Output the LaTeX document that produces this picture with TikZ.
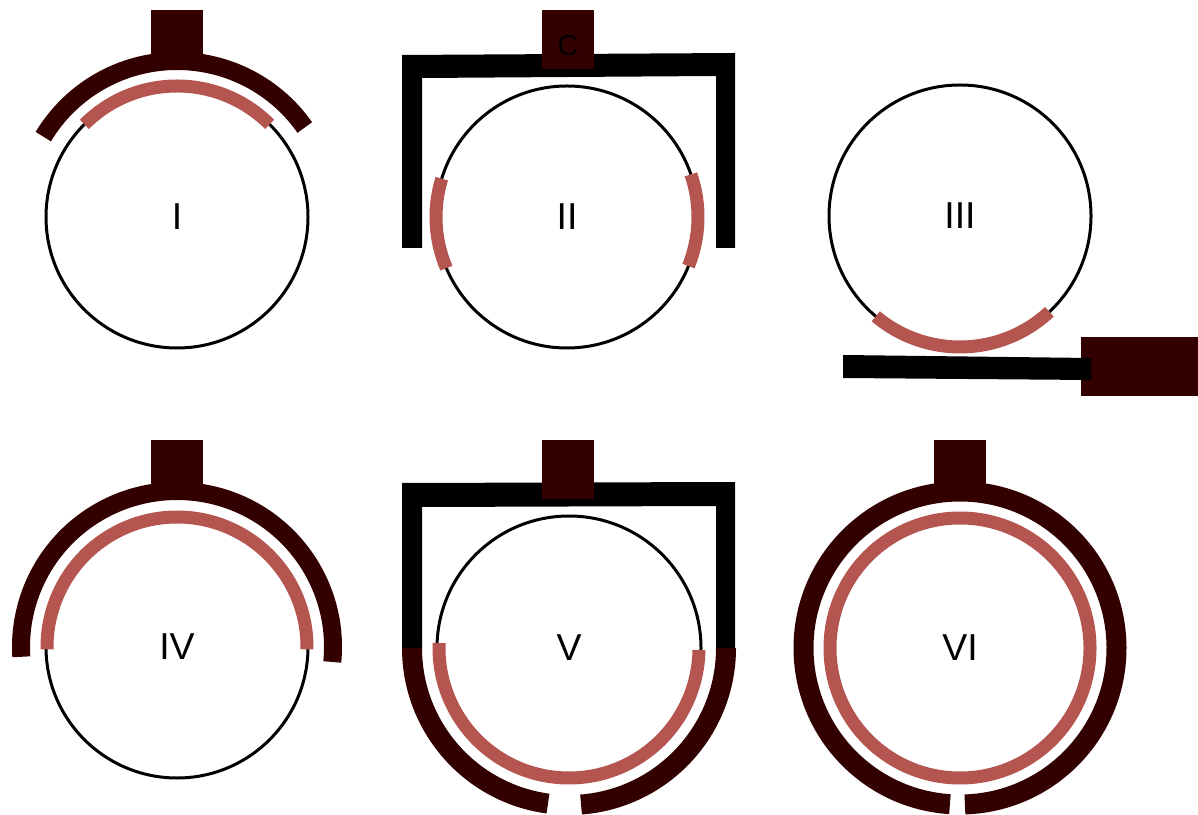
\documentclass[tikz,border=0pt]{standalone}
\usepackage{fontspec}
\setmainfont{Liberation Sans}
\definecolor{maroon}{RGB}{51,0,0}
\definecolor{rose}{RGB}{181,85,80}
\begin{document}
\begin{tikzpicture}[x=1pt,y=1pt,
  wheel/.style={circle, draw=black, line width=3pt, inner sep=0pt,
    font=\fontsize{37.5}{40}\selectfont},
  hub/.style={fill=maroon, minimum width=52pt, inner sep=0pt, anchor=north},
  liner/.style={draw=rose, line width=13pt},
  shell/.style={draw=maroon, line width=18pt},
  thickshell/.style={draw=maroon, line width=20pt},
  frame/.style={fill=black}]
\useasboundingbox (0,0) rectangle (1198,814);

% ---------- I : partial shell over the top ----------
\node[wheel, minimum size=262pt] (wI) at (177,597) {I};
\node[hub, minimum height=52pt] (hubI) at (177,804) {};
\draw[shell] ([shift={(35:156)}]wI.center) arc[start angle=35, end angle=149, radius=156];
\draw[liner] ([shift={(45:131)}]wI.center) arc[start angle=45, end angle=135, radius=131];

% ---------- II : square frame with carrier C ----------
\fill[frame] (402,566) -- (402,759) -- (735,761) -- (735,566) -- (716,566)
  -- (716,738) -- (422,736) -- (422,566) -- cycle;
\node[hub, minimum height=59pt] (hubII) at (568,804) {};
\node[font=\fontsize{29}{30}\selectfont, text=black, inner sep=0pt] (lblC) at (568,768) {C};
\node[wheel, minimum size=262pt] (wII) at (567,597) {II};
\draw[liner] ([shift={(163:131)}]wII.center) arc[start angle=163, end angle=203, radius=131];
\draw[liner] ([shift={(-22:131)}]wII.center) arc[start angle=-22, end angle=19, radius=131];

% ---------- III : flat bar below ----------
\node[wheel, minimum size=262pt] (wIII) at (960,598) {III};
\draw[liner] ([shift={(230:131)}]wIII.center) arc[start angle=230, end angle=313, radius=131];
\node[fill=maroon, minimum width=117pt, minimum height=59pt, inner sep=0pt,
  anchor=north west] (hubIII) at (1081,477) {};
\fill[frame] (843,459) -- (1091,456) -- (1091,434) -- (843,436) -- cycle;

% ---------- IV : half shell ----------
\node[wheel, minimum size=262pt] (wIV) at (177,167) {IV};
\node[hub, minimum height=52pt] (hubIV) at (177,374) {};
\draw[shell] ([shift={(-5.5:156)}]wIV.center) arc[start angle=-5.5, end angle=183.6, radius=156];
\draw[liner] ([shift={(-1:130)}]wIV.center) arc[start angle=-1, end angle=181, radius=130];

% ---------- V : frame with lower shell ----------
\fill[frame] (402,166) -- (402,331) -- (735,332) -- (735,164) -- (716,164)
  -- (716,308) -- (422,307) -- (422,166) -- cycle;
\node[hub, minimum height=59pt] (hubV) at (568,374) {};
\node[wheel, minimum size=264pt] (wV) at (569,166) {V};
\draw[thickshell] ([shift={(180:157)}]wV.center) arc[start angle=180, end angle=262.3, radius=157];
\draw[thickshell] ([shift={(274.4:157)}]wV.center) arc[start angle=274.4, end angle=360, radius=157];
\draw[liner] ([shift={(177.8:130)}]wV.center) arc[start angle=177.8, end angle=359.1, radius=130];

% ---------- VI : full shell ----------
\node[wheel, minimum size=262pt] (wVI) at (960,166) {VI};
\node[hub, minimum height=52pt] (hubVI) at (960,374) {};
\draw[thickshell] ([shift={(271.8:156.5)}]wVI.center) arc[start angle=271.8, end angle=626.3, radius=156.5];
\draw[liner] (wVI.center) circle[radius=130];
\end{tikzpicture}
\end{document}
